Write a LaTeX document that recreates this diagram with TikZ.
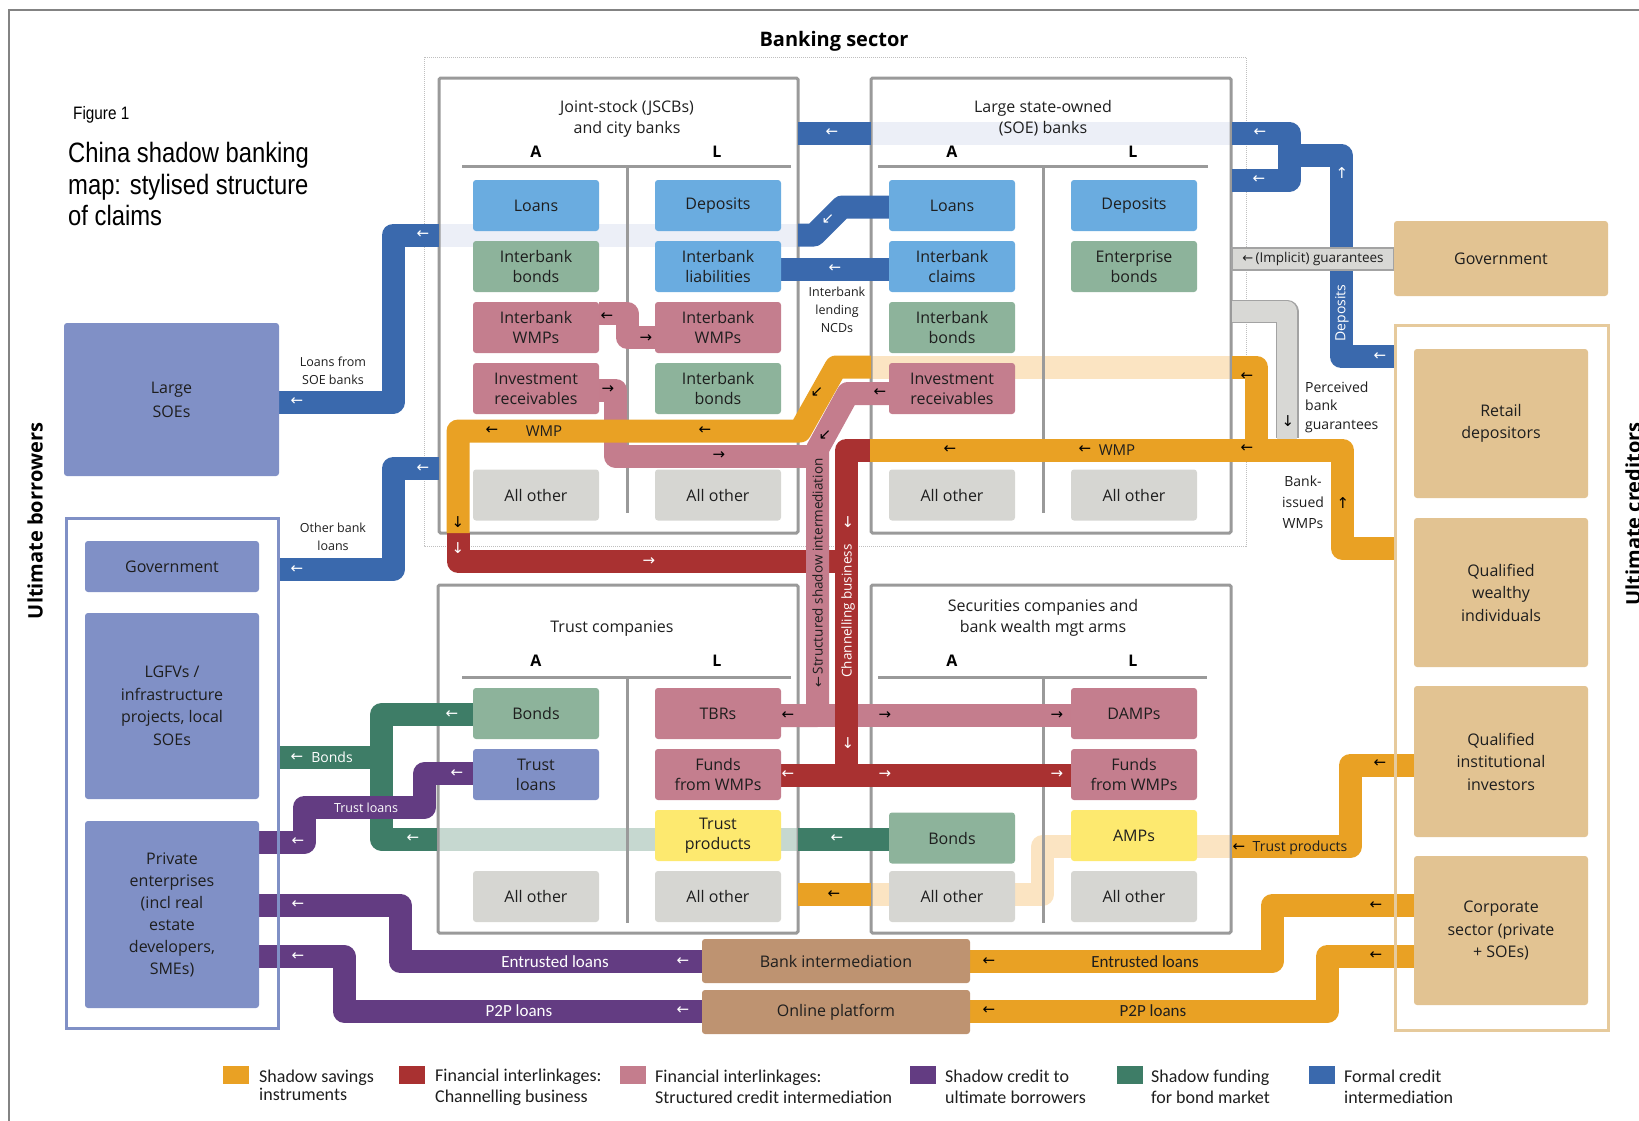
\documentclass[tikz,border=0pt]{standalone}
\usepackage{fontspec}
\setmainfont{Open Sans}
\newfontfamily\legfont{Carlito}
\newfontfamily\titlefont{Liberation Sans}[FakeStretch=0.85]
\newfontfamily\arfont{DejaVu Sans}
\usetikzlibrary{arrows.meta}
\definecolor{cBlue}{HTML}{3A69AD}
\definecolor{cBlueL}{HTML}{ECEFF7}
\definecolor{cSky}{HTML}{6AACE0}
\definecolor{cGreenBox}{HTML}{8DB39B}
\definecolor{cPinkBox}{HTML}{C47E8E}
\definecolor{cGrayBox}{HTML}{D6D6D2}
\definecolor{cYellow}{HTML}{FDE96F}
\definecolor{cBorrow}{HTML}{8090C6}
\definecolor{cCred}{HTML}{E2C392}
\definecolor{cCredB}{HTML}{E6CA9C}
\definecolor{cBrown}{HTML}{BE9371}
\definecolor{cOrange}{HTML}{E9A124}
\definecolor{cOrangeL}{HTML}{FBE4C2}
\definecolor{cRed}{HTML}{A93131}
\definecolor{cPink}{HTML}{C47D8D}
\definecolor{cPurple}{HTML}{633C82}
\definecolor{cGreen}{HTML}{3E7D67}
\definecolor{cGreenL}{HTML}{C6D8D0}
\definecolor{cGrayBand}{HTML}{D8D8D5}
\definecolor{cGrayLine}{HTML}{A3A3A3}
\definecolor{cFrame}{HTML}{9A9A9A}
\definecolor{cText}{HTML}{1E1E1E}
\newcounter{arw}
\tikzset{
  band/.style={line width=23pt, line join=round, line cap=butt},
  bankbox/.style={draw=cFrame, line width=3pt, rounded corners=1.5pt, inner sep=0pt},
  rule/.style={draw=cFrame, line width=3pt},
  bbox/.style={rounded corners=3pt, minimum width=126pt, minimum height=51pt, inner sep=0pt, align=center, text=cText, font=\fontsize{16}{20}\selectfont},
  sbox/.style={rounded corners=3pt, minimum width=174pt, inner sep=0pt, align=center, text=cText, font=\fontsize{16}{22.5}\selectfont},
  ttl/.style={inner sep=0pt, align=center, text=cText, font=\fontsize{16}{21}\selectfont},
  al/.style={inner sep=0pt, text=black, font=\bfseries\fontsize{16}{16}\selectfont},
  sml/.style={inner sep=0pt, align=center, text=cText, font=\fontsize{12.5}{18}\selectfont},
  mid/.style={inner sep=0pt, align=center, text=cText, font=\fontsize{14}{19}\selectfont},
  leg/.style={inner sep=0pt, align=left, anchor=west, text=cText, font=\legfont\fontsize{18}{21}\selectfont},
  glyph/.style={inner sep=0pt, font=\arfont\fontsize{15}{15}\selectfont},
}
\newcommand\ga[4]{\stepcounter{arw}\node[glyph,text=#1] (arw\arabic{arw}) at (#2,#3) {#4};}
\newcommand\bx[5]{\node[bbox,fill=#2] (#1) at (#3,#4) {#5};}
\begin{document}
\begin{tikzpicture}[x=1pt,y=-1pt]
\useasboundingbox (0,0) rectangle (1639,1120);
% frame
\draw[cFrame!85!black, line width=2pt] (9,1130) -- (9,10) -- (1650,10);
\draw[densely dotted, color=black!25, line width=1pt] (424,57) rectangle (1246,546);
\node[inner sep=0pt, font=\bfseries\fontsize{20}{24}\selectfont] (bst) at (834,41) {Banking sector};
% titles
\node[inner sep=0pt, anchor=west, font=\titlefont\fontsize{18}{20}\selectfont] (fig) at (73,115) {Figure 1};
\node[inner sep=0pt, anchor=west, align=left, font=\titlefont\fontsize{28}{31.5}\selectfont] (title) at (68,184) {China shadow banking\\map: stylised structure\\of claims};

% ---------- light bands ----------
\draw[band,cBlueL] (871,133) -- (1232,133);
\draw[band,cBlueL] (439,235) -- (798,235);
\draw[band,cOrangeL] (871,367) -- (1232,367);
\draw[band,cOrangeL] (1232,846.5) -- (1042.5,846.5) -- (1042.5,894.5) -- (871,894.5);
\draw[band,cGreenL] (437,839) -- (798,839);

% ---------- bank boxes ----------
\node[bankbox, minimum width=359pt, minimum height=455pt] (jscb) at (618.5,305.5) {};
\node[bankbox, minimum width=360pt, minimum height=455pt] (soe) at (1051,305.5) {};
\node[bankbox, minimum width=360pt, minimum height=348pt] (trust) at (618,759) {};
\node[bankbox, minimum width=360pt, minimum height=348pt] (sec) at (1051,759) {};
\draw[rule] (462,166) -- (791,166); \draw[rule] (627,166) -- (627,513);
\draw[rule] (878,166) -- (1208,166); \draw[rule] (1043,166) -- (1043,513);
\draw[rule] (462,677) -- (791,677); \draw[rule] (627,677) -- (627,923);
\draw[rule] (878,677) -- (1207,677); \draw[rule] (1043,677) -- (1043,923);

% ---------- blue ----------
\draw[band,cBlue] (798,133) -- (871,133);
\draw[band,cBlue] (1395,356.5) -- (1341,356.5) -- (1341,155) -- (1289,155) -- (1289,133) -- (1232,133);
\draw[band,cBlue] (1289,150) -- (1289,180) -- (1232,180);
\draw[band,cBlue] (889,207) -- (842,207) -- (814,235) -- (798,235);
\draw[band,cBlue] (439,235) -- (393,235) -- (393,402) -- (279,402);
\draw[band,cBlue] (889,269) -- (781,269);
\draw[band,cBlue] (439,468.5) -- (393,468.5) -- (393,569.5) -- (279,569.5);

% ---------- green ----------
\draw[band,cGreen] (473,714.5) -- (381.5,714.5) -- (381.5,839) -- (437,839);
\draw[band,cGreen] (381.5,757.5) -- (279,757.5);
\draw[band,cGreen] (798,839) -- (889,839);

% ---------- purple ----------
\draw[band,cPurple] (473,773.5) -- (424.5,773.5) -- (424.5,807) -- (304.5,807) -- (304.5,842) -- (259,842);
\draw[band,cPurple] (702,961.5) -- (400,961.5) -- (400,905) -- (259,905);
\draw[band,cPurple] (702,1011) -- (344,1011) -- (344,956.5) -- (259,956.5);

% ---------- red (JSCB) ----------
\draw[band,cRed] (458,533) -- (458,561.5) -- (846.5,561.5);

% ---------- pink ----------
\draw[band,cPink] (599,313.5) -- (627,313.5) -- (627,337) -- (655,337);
\draw[band,cPink] (599,390) -- (615.5,390) -- (615.5,456) -- (817.5,456);
\draw[band,cPink] (889,393.5) -- (848,393.5) -- (817.5,449) -- (817.5,715.5) -- (781,715.5);
\draw[band,cPink] (817.5,700) -- (817.5,715.5) -- (1071,715.5);

% ---------- orange ----------
\draw[band,cOrange] (1395,548.5) -- (1342.5,548.5) -- (1342.5,450) -- (870,450);
\draw[band,cOrange] (1256.5,455) -- (1256.5,367) -- (1232,367);
\draw[band,cOrange] (871,367) -- (836,367) -- (800,431) -- (458,431) -- (458,533);
\draw[band,cOrange] (1414,765) -- (1350.5,765) -- (1350.5,846.5) -- (1232,846.5);
\draw[band,cOrange] (871,894.5) -- (798,894.5);
\draw[band,cOrange] (1414,905.5) -- (1272,905.5) -- (1272,961.5) -- (970,961.5);
\draw[band,cOrange] (1414,956) -- (1327.5,956) -- (1327.5,1011) -- (970,1011);

% ---------- red (channelling) ----------
\draw[band,cRed] (870,450) -- (846.5,450) -- (846.5,775) -- (781,775);
\draw[band,cRed] (846.5,760) -- (846.5,775) -- (1071,775);

% ---------- gray guarantees ----------
\draw[line width=23pt, cGrayLine, line join=round] (1232,311.5) -- (1287,311.5) -- (1287,438);
\draw[line width=20.5pt, cGrayBand, line join=round] (1232,311.5) -- (1287,311.5) -- (1287,438.5);
\node[fill=cGrayBand, draw=cGrayLine, line width=1.2pt, minimum width=162pt, minimum height=22pt, inner sep=0pt] (impl) at (1313,259) {};

% ---------- JSCB boxes ----------
\bx{jA1}{cSky}{536}{205.5}{Loans}
\bx{jA2}{cGreenBox}{536}{266.5}{Interbank\\bonds}
\bx{jA3}{cPinkBox}{536}{327.5}{Interbank\\WMPs}
\bx{jA4}{cPinkBox}{536}{388.5}{Investment\\receivables}
\bx{jA5}{cGrayBox}{536}{495}{All other}
\bx{jL1}{cSky}{718}{205.5}{Deposits}
\bx{jL2}{cSky}{718}{266.5}{Interbank\\liabilities}
\bx{jL3}{cPinkBox}{718}{327.5}{Interbank\\WMPs}
\bx{jL4}{cGreenBox}{718}{388.5}{Interbank\\bonds}
\bx{jL5}{cGrayBox}{718}{495}{All other}
% SOE boxes
\bx{sA1}{cSky}{952}{205.5}{Loans}
\bx{sA2}{cSky}{952}{266.5}{Interbank\\claims}
\bx{sA3}{cGreenBox}{952}{327.5}{Interbank\\bonds}
\bx{sA4}{cPinkBox}{952}{388.5}{Investment\\receivables}
\bx{sA5}{cGrayBox}{952}{495}{All other}
\bx{sL1}{cSky}{1134}{205.5}{Deposits}
\bx{sL2}{cGreenBox}{1134}{266.5}{Enterprise\\bonds}
\bx{sL5}{cGrayBox}{1134}{495}{All other}
% Trust boxes
\bx{tA1}{cGreenBox}{536}{713.5}{Bonds}
\bx{tA2}{cBorrow}{536}{774.5}{Trust\\loans}
\bx{tA4}{cGrayBox}{536}{896.5}{All other}
\bx{tL1}{cPinkBox}{718}{713.5}{TBRs}
\bx{tL2}{cPinkBox}{718}{774.5}{Funds\\from WMPs}
\bx{tL3}{cYellow}{718}{835.5}{Trust\\products}
\bx{tL4}{cGrayBox}{718}{896.5}{All other}
% Securities boxes
\bx{cA3}{cGreenBox}{952}{838}{Bonds}
\bx{cA4}{cGrayBox}{952}{896.5}{All other}
\bx{cL1}{cPinkBox}{1134}{713.5}{DAMPs}
\bx{cL2}{cPinkBox}{1134}{774.5}{Funds\\from WMPs}
\bx{cL3}{cYellow}{1134}{835.5}{AMPs}
\bx{cL4}{cGrayBox}{1134}{896.5}{All other}

% bank titles
\node[ttl] (jt) at (627,118.5) {Joint-stock (JSCBs)\\and city banks};
\node[ttl] (st) at (1043,118.5) {Large state-owned\\(SOE) banks};
\node[ttl] (tt) at (612,629) {Trust companies};
\node[ttl] (ct) at (1043,617.5) {Securities companies and\\bank wealth mgt arms};
\node[al] (ja) at (536,152) {A}; \node[al] (jl) at (717,152) {L};
\node[al] (sa) at (952,152) {A}; \node[al] (sl) at (1133,152) {L};
\node[al] (ta) at (536,661) {A}; \node[al] (tl) at (717,661) {L};
\node[al] (ca) at (952,661) {A}; \node[al] (cl) at (1133,661) {L};

% ---------- borrowers ----------
\node[sbox, fill=cBorrow, minimum width=215pt, minimum height=153pt, font=\fontsize{16}{24}\selectfont] (lsoe) at (171.5,399.5) {Large\\SOEs};
\node[draw=cBorrow, line width=3pt, minimum width=212pt, minimum height=510pt, inner sep=0pt] (bgrp) at (172,773) {};
\node[sbox, fill=cBorrow, minimum height=51pt] (bgov) at (172,566.5) {Government};
\node[sbox, fill=cBorrow, minimum height=186pt] (lgfv) at (172,706) {LGFVs /\\infrastructure\\projects, local\\SOEs};
\node[sbox, fill=cBorrow, minimum height=187pt, font=\fontsize{16}{22}\selectfont] (priv) at (172,914.5) {Private\\enterprises\\(incl real\\estate\\developers,\\SMEs)};
\node[inner sep=0pt, rotate=90, font=\bfseries\fontsize{20}{20}\selectfont] (ub) at (35,521) {Ultimate borrowers};

% ---------- creditors ----------
\node[sbox, fill=cCred, minimum width=214pt, minimum height=75pt] (cgov) at (1501,258.5) {Government};
\node[draw=cCredB, line width=3pt, minimum width=213pt, minimum height=705pt, inner sep=0pt] (cgrp) at (1501.5,677.5) {};
\node[sbox, fill=cCred, minimum height=149pt] (retail) at (1501,423.5) {Retail\\depositors};
\node[sbox, fill=cCred, minimum height=149pt] (wealthy) at (1501,592.5) {Qualified\\wealthy\\individuals};
\node[sbox, fill=cCred, minimum height=151pt] (inst) at (1501,761.5) {Qualified\\institutional\\investors};
\node[sbox, fill=cCred, minimum height=149pt] (corp) at (1501,930.5) {Corporate\\sector (private\\+ SOEs)};
\node[inner sep=0pt, rotate=90, font=\bfseries\fontsize{20}{20}\selectfont] (uc) at (1633,514) {Ultimate creditors};

% intermediation boxes
\node[bbox, fill=cBrown, minimum width=268pt, minimum height=44pt] (bint) at (836,961) {Bank intermediation};
\node[bbox, fill=cBrown, minimum width=268pt, minimum height=44pt] (onl) at (836,1012) {Online platform};

% ---------- labels ----------
\node[sml] (lfs) at (333,371) {Loans from\\SOE banks};
\node[sml] (obl) at (333,537) {Other bank\\loans};
\node[sml] (ilend) at (837,310) {Interbank\\lending\\NCDs};
\node[mid, font=\fontsize{13.5}{16}\selectfont] (impltxt) at (1313,259) {{\arfont\fontsize{13}{13}\selectfont ←}\,(Implicit) guarantees};
\node[mid, anchor=west, align=left, font=\fontsize{14}{18.5}\selectfont] (perc) at (1305,407) {Perceived\\bank\\guarantees};
\node[mid, font=\fontsize{14}{21}\selectfont] (biw) at (1303,502) {Bank-\\issued\\WMPs};
\node[mid, rotate=90, text=white] (dep) at (1342,313) {Deposits};
\node[mid, font=\fontsize{15}{15}\selectfont] (wmp1) at (544,431) {WMP};
\node[mid, font=\fontsize{15}{15}\selectfont] (wmp2) at (1117,450) {WMP};
\node[mid] (tp) at (1300,848) {Trust products};
\node[mid, text=white] (bondsl) at (332,757.5) {Bonds};
\node[sml, text=white] (tloans) at (366,808) {Trust loans};
\node[inner sep=0pt, text=white, font=\legfont\fontsize{17}{17}\selectfont] (el1) at (555,961.5) {Entrusted loans};
\node[inner sep=0pt, text=white, font=\legfont\fontsize{17}{17}\selectfont] (pl1) at (519,1011) {P2P loans};
\node[inner sep=0pt, text=cText, font=\legfont\fontsize{17}{17}\selectfont] (el2) at (1145,961.5) {Entrusted loans};
\node[inner sep=0pt, text=cText, font=\legfont\fontsize{17}{17}\selectfont] (pl2) at (1153,1011) {P2P loans};
\node[mid, rotate=90, text=white, font=\fontsize{13.5}{13.5}\selectfont] (chb) at (848,611) {Channelling business};
\node[mid, rotate=90, font=\fontsize{13.5}{13.5}\selectfont] (ssi) at (817.5,573) {{\arfont\fontsize{13}{13}\selectfont ←}\,Structured shadow intermediation};

% ---------- arrow glyphs ----------
% blue
\ga{white}{832}{133}{←} \ga{white}{1260}{133}{←} \ga{white}{1259}{180}{←}
\ga{white}{1342}{173}{↑} \ga{white}{1380}{357}{←}
\ga{white}{423}{235}{←} \ga{white}{828}{219}{↙} \ga{white}{297}{402}{←}
\ga{white}{835}{269}{←} \ga{white}{423}{468.5}{←} \ga{white}{297}{570}{←}
% orange
\ga{black}{492}{431}{←} \ga{black}{705}{431}{←} \ga{black}{817}{392}{↙}
\ga{black}{1247}{377}{←} \ga{black}{458}{522}{↓}
\ga{black}{950}{450}{←} \ga{black}{1085}{450}{←} \ga{black}{1247}{449}{←}
\ga{black}{1343}{503}{↑} \ga{black}{1380}{764}{←} \ga{black}{1239}{848}{←}
\ga{black}{834}{894.5}{←} \ga{black}{1376}{905.5}{←} \ga{black}{1376}{956}{←}
\ga{black}{989}{961.5}{←} \ga{black}{989}{1011}{←}
% red
\ga{white}{458}{548}{↓} \ga{white}{649}{562}{→} \ga{white}{848}{522}{↓}
\ga{white}{848}{743}{↓} \ga{white}{885}{775}{→} \ga{white}{1057}{775}{→}
\ga{white}{788}{775}{←}
% pink
\ga{black}{607}{317}{←} \ga{black}{646}{339}{→} \ga{black}{608}{390}{→}
\ga{black}{719}{456}{→} \ga{black}{825}{435}{↙} \ga{black}{880}{393}{←}
\ga{black}{788}{715.5}{←} \ga{black}{885}{715.5}{→} \ga{black}{1057}{715.5}{→}
% green
\ga{white}{452}{714.5}{←} \ga{white}{297}{757.5}{←} \ga{white}{413}{839}{←}
\ga{white}{837}{839}{←}
% purple
\ga{white}{457}{773.5}{←} \ga{white}{298}{842}{←} \ga{white}{298}{905}{←}
\ga{white}{298}{956.5}{←} \ga{white}{683}{961.5}{←} \ga{white}{683}{1011}{←}
% gray
\ga{black}{1288}{421}{↓}

% ---------- legend ----------
\node[fill=cOrange, minimum width=26pt, minimum height=18pt, inner sep=0pt] (k1) at (236,1075) {};
\node[fill=cRed, minimum width=26pt, minimum height=18pt, inner sep=0pt] (k2) at (412,1075) {};
\node[fill=cPink, minimum width=26pt, minimum height=18pt, inner sep=0pt] (k3) at (633,1075) {};
\node[fill=cPurple, minimum width=26pt, minimum height=18pt, inner sep=0pt] (k4) at (923,1075) {};
\node[fill=cGreen, minimum width=26pt, minimum height=18pt, inner sep=0pt] (k5) at (1130,1075) {};
\node[fill=cBlue, minimum width=26pt, minimum height=18pt, inner sep=0pt] (k6) at (1322,1075) {};
\node[leg, font=\legfont\fontsize{18}{18}\selectfont] (t1) at (259,1085) {Shadow savings\\instruments};
\node[leg] (t2) at (435,1087) {Financial interlinkages:\\Channelling business};
\node[leg] (t3) at (655,1087) {Financial interlinkages:\\Structured credit intermediation};
\node[leg] (t4) at (945,1087) {Shadow credit to\\ultimate borrowers};
\node[leg] (t5) at (1151,1087) {Shadow funding\\for bond market};
\node[leg] (t6) at (1344,1087) {Formal credit\\intermediation};
\end{tikzpicture}
\end{document}
